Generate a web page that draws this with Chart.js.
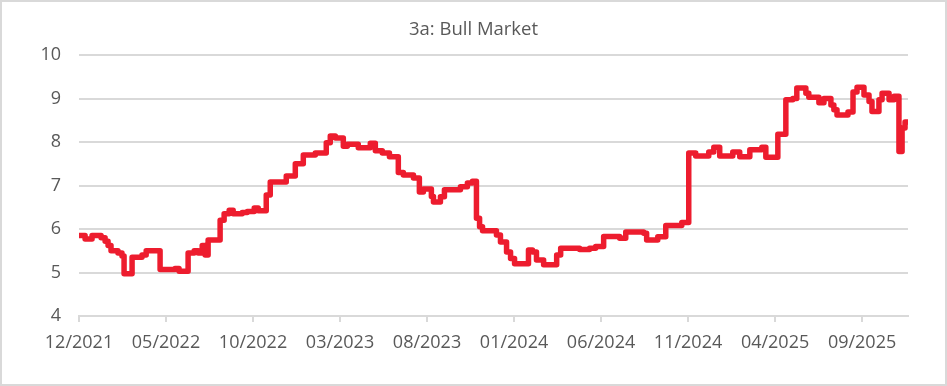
<!DOCTYPE html>
<html>
<head>
<meta charset="utf-8">
<script src="https://cdn.jsdelivr.net/npm/chart.js@4/dist/chart.umd.min.js"></script>
<style>
  html, body { margin: 0; padding: 0; background: #fff; }
  #wrap { position: relative; width: 947px; height: 386px; }
  #frame { position: absolute; left: 0; top: 0; width: 947px; height: 386px; box-sizing: border-box; border: 2px solid #d9d9d9; pointer-events: none; }
  canvas { display: block; }
</style>
</head>
<body>
<div id="wrap">
  <canvas id="c" width="947" height="386"></canvas>
  <div id="frame"></div>
</div>
<script>
// Months elapsed since start of 12/2021 (x positions of value changes)
const monthsSinceDec2021 = [
  0, 0.35, 0.75, 1.27, 1.50, 1.67, 1.84, 2.24, 2.47, 2.59, 3.05, 3.62, 3.86, 4.66, 5.52, 5.75,
  6.27, 6.62, 6.85, 7.08, 7.25, 7.42, 8.11, 8.34, 8.63, 8.86, 9.38, 9.67, 10.07, 10.30, 10.76, 10.99,
  11.91, 12.43, 12.89, 13.58, 14.21, 14.44, 14.73, 15.19, 15.42, 16.05, 16.74, 17.03, 17.43, 17.84,
  18.35, 18.64, 19.22, 19.56, 19.79, 20.25, 20.37, 20.77, 21.00, 21.92, 22.32, 22.61, 22.84, 23.02,
  23.19, 23.99, 24.22, 24.57, 24.80, 25.03, 25.83, 26.06, 26.29, 26.70, 27.45, 27.68, 28.77, 29.34,
  29.69, 30.15, 31.07, 31.42, 32.45, 32.62, 33.26, 33.72, 34.64, 35.04, 35.44, 36.19, 36.48, 36.82,
  37.57, 37.97, 38.55, 39.24, 39.47, 40.16, 40.62, 41.02, 41.25, 41.77, 41.94, 42.52, 42.81, 43.21,
  43.38, 43.56, 44.19, 44.48, 44.71, 45.11, 45.40, 45.57, 45.97, 46.15, 46.55, 46.84, 47.12, 47.30,
  47.47, 47.64
];
const bullValues = [
  5.85, 5.77, 5.85, 5.80, 5.72, 5.62, 5.50, 5.45, 5.38, 4.97, 5.35, 5.40, 5.50, 5.07, 5.09, 5.03,
  5.45, 5.50, 5.45, 5.62, 5.40, 5.75, 6.20, 6.35, 6.43, 6.35, 6.38, 6.40, 6.48, 6.42, 6.78, 7.08,
  7.22, 7.50, 7.70, 7.75, 7.98, 8.14, 8.09, 7.90, 7.95, 7.87, 7.97, 7.80, 7.75, 7.66,
  7.30, 7.24, 7.17, 6.85, 6.92, 6.75, 6.62, 6.74, 6.90, 6.97, 7.06, 7.10, 6.25, 6.05,
  5.96, 5.86, 5.70, 5.47, 5.32, 5.20, 5.52, 5.47, 5.29, 5.18, 5.40, 5.56, 5.53, 5.56,
  5.60, 5.83, 5.79, 5.93, 5.90, 5.75, 5.82, 6.08, 6.15, 7.75, 7.68, 7.77, 7.88, 7.68,
  7.77, 7.66, 7.82, 7.88, 7.65, 8.18, 8.97, 9.00, 9.24, 9.12, 9.03, 8.90, 9.00, 8.85,
  8.74, 8.62, 8.69, 9.15, 9.26, 9.08, 8.93, 8.70, 8.97, 9.12, 8.97, 9.05, 7.78, 8.32,
  8.46, 8.46
];
const xTickLabels = ['12/2021','05/2022','10/2022','03/2023','08/2023','01/2024','06/2024','11/2024','04/2025','09/2025'];
const yTicks = [4, 5, 6, 7, 8, 9, 10];
const chartTitle = '3a: Bull Market';

const points = monthsSinceDec2021.map((m, i) => ({ x: m, y: bullValues[i] }));
const FONT = "'Open Sans', 'Liberation Sans', sans-serif";
const TXT = '#595959';
const GRID = '#d9d9d9';

new Chart(document.getElementById('c'), {
  type: 'line',
  data: {
    datasets: [{
      label: 'Bull Market',
      data: points,
      stepped: 'before',
      borderColor: '#ED1C2E',
      borderWidth: 5.5,
      borderCapStyle: 'round',
      borderJoinStyle: 'round',
      pointRadius: 0,
      fill: false
    }]
  },
  options: {
    responsive: false,
    animation: false,
    layout: { padding: { top: 11, left: 39, right: 39, bottom: 0 } },
    plugins: {
      legend: { display: false },
      tooltip: { enabled: false },
      title: {
        display: true,
        text: chartTitle,
        color: TXT,
        font: { family: FONT, size: 18.5, weight: 'normal' },
        padding: { top: 8, bottom: 13.8 }
      }
    },
    scales: {
      x: {
        type: 'linear',
        min: 0,
        max: 47.64,
        afterBuildTicks: (s) => { s.ticks = xTickLabels.map((_, i) => ({ value: i * 5 })); },
        ticks: {
          autoSkip: false,
          maxRotation: 0,
          color: TXT,
          font: { family: FONT, size: 18 },
          padding: 10,
          callback: (v) => xTickLabels[Math.round(v / 5)]
        },
        grid: { drawOnChartArea: false, drawTicks: true, tickLength: 6, color: GRID, lineWidth: 2 },
        border: { display: true, color: GRID, width: 2 },
        afterFit: (s) => { s.height = 70; }
      },
      y: {
        min: 4,
        max: 10,
        afterBuildTicks: (s) => { s.ticks = yTicks.map(v => ({ value: v })); },
        ticks: {
          color: TXT,
          font: { family: FONT, size: 18 },
          padding: 18
        },
        grid: { drawTicks: false, color: GRID, lineWidth: 2 },
        border: { display: false },
        afterFit: (s) => { s.width = 40; }
      }
    }
  }
});
</script>
</body>
</html>
